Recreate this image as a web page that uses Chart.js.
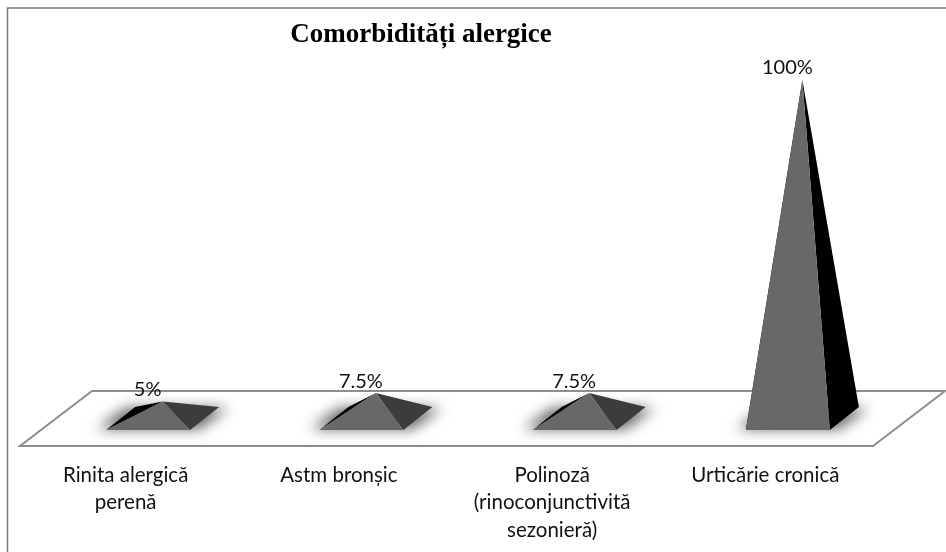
<!DOCTYPE html>
<html>
<head>
<meta charset="utf-8">
<style>
  html, body { margin: 0; padding: 0; background: #fff; }
  #wrap { width: 946px; height: 552px; }
</style>
<script src="https://cdn.jsdelivr.net/npm/chart.js@4"></script>
</head>
<body>
<div id="wrap"><canvas id="chart" width="946" height="552"></canvas></div>
<script>
const categories = [
  ['Rinita alergică', 'perenă'],
  'Astm bronșic',
  ['Polinoză', '(rinoconjunctivită', 'sezonieră)'],
  'Urticărie cronică'
];
const values = [5, 7.5, 7.5, 100];
const valueLabels = ['5%', '7.5%', '7.5%', '100%'];
const rightFaceColors = ['#3c3c3c', '#3c3c3c', '#3c3c3c', '#000000'];

const FRONT = '#686868';
const LINE = '#8e8e8e';
const TEXT_FONT = '20px Lato, "Open Sans", sans-serif';

// the floor and the pyramids are fake 3d, shifted off the category position
const DEPTH_X = 14.5;
const DEPTH_Y = 11.5;
const HALF_W = 42;
const SHADOW_FAR = 3000;

const frame = {
  id: 'frame',
  beforeDraw(chart) {
    const { ctx } = chart;
    ctx.save();
    ctx.strokeStyle = '#7a7a7a';
    ctx.lineWidth = 1.5;
    // only top and left edges of the box are inside the picture
    ctx.strokeRect(7.5, 8, 960, 570);
    ctx.restore();
  }
};

const floor = {
  id: 'floor',
  beforeDatasetsDraw(chart) {
    const { ctx, chartArea } = chart;
    const base = chart.scales.y.getPixelForValue(0);
    ctx.save();
    ctx.strokeStyle = LINE;
    ctx.lineWidth = 2;
    ctx.beginPath();
    ctx.moveTo(chartArea.left - 36, base + 27.5);
    ctx.lineTo(chartArea.right - 36, base + 27.5);
    ctx.lineTo(chartArea.right + 36, base - 27.5);
    ctx.lineTo(chartArea.left + 36, base - 27.5);
    ctx.closePath();
    ctx.stroke();
    ctx.restore();
  }
};

const pyramids = {
  id: 'pyramids',
  afterDatasetsDraw(chart) {
    const { ctx } = chart;
    const meta = chart.getDatasetMeta(0);
    meta.data.forEach((bar, i) => {
      const cx = bar.x;
      const apexY = bar.y;
      const by = bar.base;
      const fl = [cx - HALF_W - DEPTH_X, by + DEPTH_Y];
      const fr = [cx + HALF_W - DEPTH_X, by + DEPTH_Y];
      const br = [cx + HALF_W + DEPTH_X, by - DEPTH_Y];
      const bl = [cx - HALF_W + DEPTH_X, by - DEPTH_Y];
      const apex = [cx, apexY];

      // soft shadow on the floor, shape drawn off canvas so only the blur shows
      ctx.save();
      ctx.shadowColor = 'rgba(0,0,0,0.62)';
      ctx.shadowBlur = 14;
      ctx.shadowOffsetX = SHADOW_FAR;
      ctx.fillStyle = '#000';
      poly(ctx, [
        [fl[0] - 9 - SHADOW_FAR, fl[1] - 1],
        [fr[0] + 9 - SHADOW_FAR, fr[1] - 1],
        [br[0] + 9 - SHADOW_FAR, br[1] + 1],
        [bl[0] - 9 - SHADOW_FAR, bl[1] + 1]
      ]);
      ctx.restore();

      ctx.fillStyle = '#000';
      poly(ctx, [fl, bl, apex]);
      ctx.fillStyle = rightFaceColors[i];
      poly(ctx, [fr, br, apex]);
      ctx.fillStyle = FRONT;
      poly(ctx, [fl, fr, apex]);

      ctx.fillStyle = '#111';
      ctx.font = TEXT_FONT;
      ctx.textAlign = 'center';
      ctx.textBaseline = 'middle';
      ctx.fillText(valueLabels[i], cx - 15, apexY - 12);
    });
  }
};

function poly(ctx, pts) {
  ctx.beginPath();
  pts.forEach((p, i) => i ? ctx.lineTo(p[0], p[1]) : ctx.moveTo(p[0], p[1]));
  ctx.closePath();
  ctx.fill();
}

// chart title sits left of the canvas centre in the original
const titleShift = {
  id: 'titleShift',
  afterLayout(chart) {
    chart.titleBlock.left -= 123;
  }
};

new Chart(document.getElementById('chart'), {
  type: 'bar',
  data: {
    labels: categories,
    datasets: [{
      label: 'Comorbidități alergice',
      data: values,
      backgroundColor: 'transparent',
      borderWidth: 0
    }]
  },
  options: {
    responsive: false,
    animation: false,
    layout: { padding: { left: 56, right: 37, top: 19, bottom: 0 } },
    plugins: {
      legend: { display: false },
      tooltip: { enabled: false },
      title: {
        display: true,
        text: 'Comorbidități alergice',
        color: '#000',
        font: { family: '"Liberation Serif", serif', size: 27, weight: 'bold' },
        padding: { top: 0, bottom: 28.6 }
      }
    },
    scales: {
      y: { display: false, min: 0, max: 100 },
      x: {
        afterFit(scale) { scale.height = 133.5; },
        grid: { display: false, drawTicks: false },
        border: { display: false },
        ticks: {
          color: '#111',
          font: { family: 'Lato, "Open Sans", sans-serif', size: 20.5, lineHeight: 1.34 },
          padding: 43,
          labelOffset: -37,
          maxRotation: 0,
          autoSkip: false
        }
      }
    }
  },
  plugins: [frame, floor, pyramids, titleShift]
});
</script>
</body>
</html>
